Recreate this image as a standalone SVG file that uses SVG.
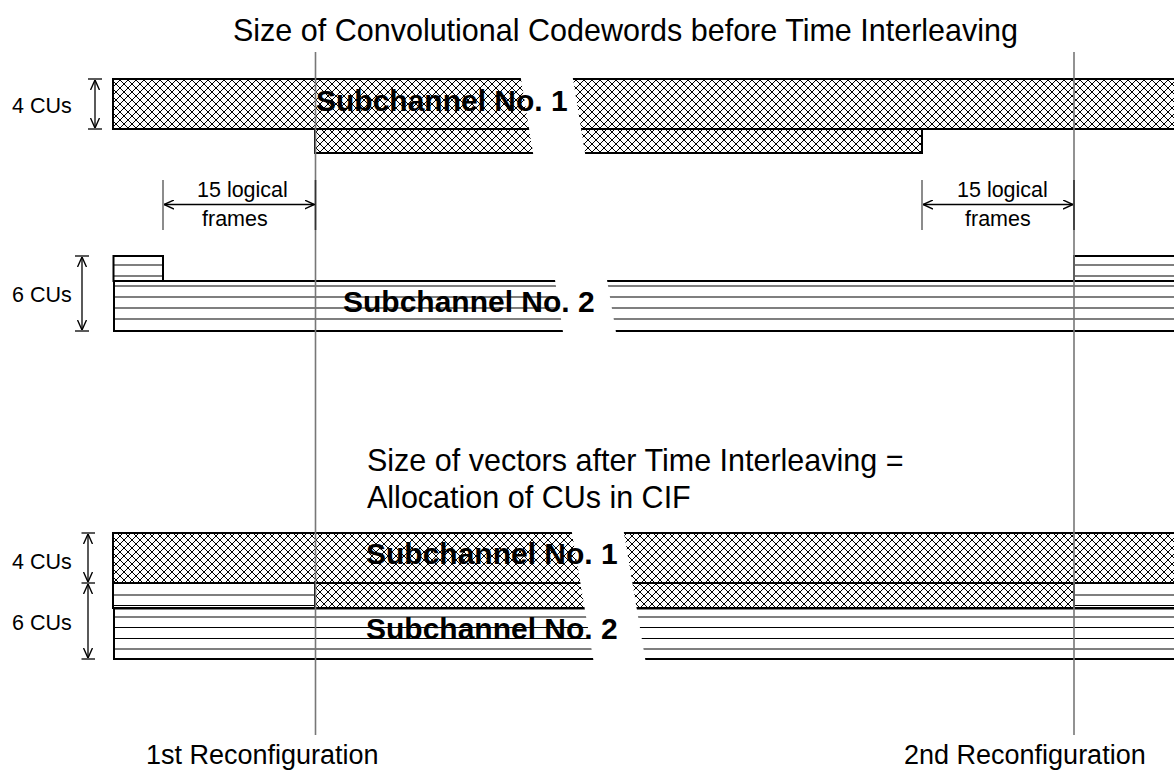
<svg xmlns="http://www.w3.org/2000/svg" width="1174" height="776" viewBox="0 0 1174 776">
<style>
text{font-family:"Liberation Sans",Arial,sans-serif;fill:#000}
.big{font-size:30.5px}
.rc{font-size:27px}
.sm{font-size:21.5px}
.bold{font-size:30px;font-weight:bold}
.blk{stroke:#000;stroke-width:2}
.stripe{stroke:#000;stroke-width:1.2}
.gap{fill:#fff;stroke:none}
.dim{stroke:#000;stroke-width:1.3;fill:none}
.tick{stroke:#666;stroke-width:1.5}
.vline{stroke:#777;stroke-width:1.6}
</style>
<defs>
<pattern id="xhatch" patternUnits="userSpaceOnUse" width="8" height="8">
<rect width="8" height="8" fill="#fff"/>
<path d="M0,0L8,8M8,0L0,8M-1,7L1,9M7,-1L9,1M-1,1L1,-1M7,9L9,7" stroke="#000" stroke-width="1" shape-rendering="crispEdges"/>
</pattern>
<marker id="ah" viewBox="0 0 10 10" refX="10" refY="5" markerWidth="10" markerHeight="10" markerUnits="userSpaceOnUse" orient="auto-start-reverse">
<path d="M0,0.5L10,5L0,9.5" fill="none" stroke="#000" stroke-width="1.4"/>
</marker>
</defs>

<g id="title">
<text class="big" x="233" y="41">Size of Convolutional Codewords before Time Interleaving</text>
</g>

<g id="subch1-before">
<rect x="113" y="79" width="1070" height="50" fill="url(#xhatch)" class="blk"/>
<rect x="315" y="129" width="607" height="24" fill="url(#xhatch)" class="blk"/>
<polygon class="gap" points="520.5,76 572.5,76 585.5,156 533.5,156"/>
</g>

<g id="subch2-before">
<rect x="113.5" y="256" width="49.5" height="25" fill="#fff" class="blk"/>
<line class="stripe" x1="113.5" y1="265" x2="163" y2="265"/>
<line class="stripe" x1="113.5" y1="276" x2="163" y2="276"/>
<rect x="114" y="281" width="1070" height="50" fill="#fff" class="blk"/>
<line class="stripe" x1="114" y1="286" x2="1176" y2="286"/>
<line class="stripe" x1="114" y1="297" x2="1176" y2="297"/>
<line class="stripe" x1="114" y1="308" x2="1176" y2="308"/>
<line class="stripe" x1="114" y1="319" x2="1176" y2="319"/>
<rect x="1074" y="256" width="110" height="25" fill="#fff" class="blk"/>
<line class="stripe" x1="1074" y1="265" x2="1176" y2="265"/>
<line class="stripe" x1="1074" y1="276" x2="1176" y2="276"/>
<polygon class="gap" points="554.7,278 606.7,278 616.3,334 563.3,334"/>
</g>

<g id="subtitle">
<text class="big" x="367" y="471">Size of vectors after Time Interleaving =</text>
<text class="big" x="367" y="508">Allocation of CUs in CIF</text>
</g>

<g id="cif-after">
<rect x="113" y="533" width="1070" height="50" fill="url(#xhatch)" class="blk"/>
<rect x="315" y="583" width="759" height="25" fill="url(#xhatch)" class="blk"/>
<rect x="113" y="583" width="202" height="25" fill="#fff" class="blk"/>
<line class="stripe" x1="113" y1="595" x2="315" y2="595"/>
<line class="stripe" x1="113" y1="605.5" x2="315" y2="605.5"/>
<rect x="1074" y="583" width="110" height="25" fill="#fff" class="blk"/>
<line class="stripe" x1="1074" y1="595" x2="1176" y2="595"/>
<line class="stripe" x1="1074" y1="605.5" x2="1176" y2="605.5"/>
<rect x="114" y="608.5" width="1070" height="50.5" fill="#fff" class="blk"/>
<line class="stripe" x1="114" y1="617" x2="1176" y2="617"/>
<line class="stripe" x1="114" y1="627.5" x2="1176" y2="627.5"/>
<line class="stripe" x1="114" y1="638.5" x2="1176" y2="638.5"/>
<line class="stripe" x1="114" y1="649" x2="1176" y2="649"/>
<polygon class="gap" points="571.5,530 623.5,530 645.7,662 593.7,662"/>
</g>

<g id="connectors">
<line class="vline" x1="315.5" y1="52" x2="315.5" y2="735"/>
<line class="vline" x1="1074" y1="52" x2="1074" y2="735"/>
<line class="dim" x1="88" y1="79" x2="102" y2="79"/>
<line class="dim" x1="88" y1="129" x2="102" y2="129"/>
<line class="dim" x1="95" y1="80" x2="95" y2="128" marker-start="url(#ah)" marker-end="url(#ah)"/>
<line class="dim" x1="75" y1="256" x2="89" y2="256"/>
<line class="dim" x1="75" y1="331" x2="89" y2="331"/>
<line class="dim" x1="82" y1="257" x2="82" y2="330" marker-start="url(#ah)" marker-end="url(#ah)"/>
<line class="dim" x1="81.5" y1="533" x2="95" y2="533"/>
<line class="dim" x1="81.5" y1="583" x2="95" y2="583"/>
<line class="dim" x1="81.5" y1="659" x2="95" y2="659"/>
<line class="dim" x1="88" y1="534" x2="88" y2="582" marker-start="url(#ah)" marker-end="url(#ah)"/>
<line class="dim" x1="88" y1="584" x2="88" y2="658" marker-start="url(#ah)" marker-end="url(#ah)"/>
<line class="tick" x1="163" y1="180" x2="163" y2="230"/>
<line x1="315.5" y1="180" x2="315.5" y2="230" stroke="#333" stroke-width="1.6"/>
<line class="dim" x1="164" y1="204.5" x2="314.5" y2="204.5" stroke="#333" marker-start="url(#ah)" marker-end="url(#ah)"/>
<line class="tick" x1="922" y1="180" x2="922" y2="230"/>
<line x1="1074" y1="180" x2="1074" y2="230" stroke="#333" stroke-width="1.6"/>
<line class="dim" x1="923" y1="204.5" x2="1073" y2="204.5" stroke="#333" marker-start="url(#ah)" marker-end="url(#ah)"/>
</g>

<g id="labels">
<text class="bold" x="316" y="111">Subchannel No. 1</text>
<text class="bold" x="343" y="312">Subchannel No. 2</text>
<text class="bold" x="366" y="564">Subchannel No. 1</text>
<text class="bold" x="366" y="639">Subchannel No. 2</text>
<text class="sm" x="12" y="113">4 CUs</text>
<text class="sm" x="12" y="302">6 CUs</text>
<text class="sm" x="12" y="569">4 CUs</text>
<text class="sm" x="12" y="630">6 CUs</text>
<text class="sm" x="197" y="197">15 logical</text>
<text class="sm" x="202" y="226">frames</text>
<text class="sm" x="957" y="197">15 logical</text>
<text class="sm" x="965" y="226">frames</text>
<text class="rc" x="146" y="764">1st Reconfiguration</text>
<text class="rc" x="904" y="764">2nd Reconfiguration</text>
</g>
</svg>
